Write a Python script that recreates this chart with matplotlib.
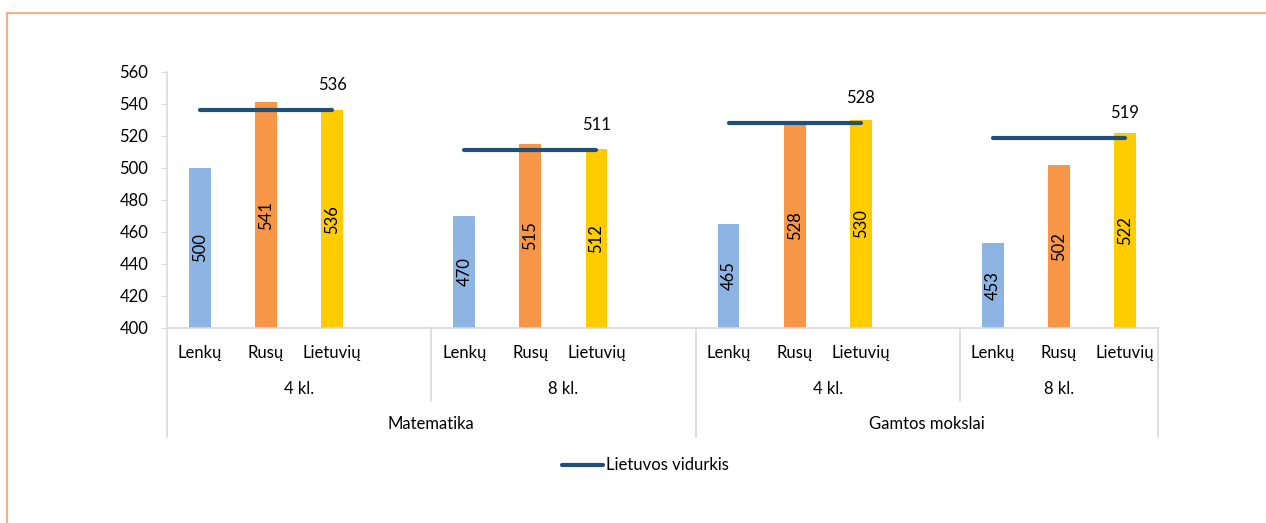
import matplotlib.pyplot as plt
from matplotlib.lines import Line2D

plt.rcParams["font.family"] = ["Lato", "DejaVu Sans"]

groups = ["4 kl.", "8 kl.", "4 kl.", "8 kl."]
subjects = ["Matematika", "Gamtos mokslai"]
series_names = ["Lenkų", "Rusų", "Lietuvių"]
lenku = [500, 470, 465, 453]
rusu = [541, 515, 528, 502]
lietuviu = [536, 512, 530, 522]
vidurkis = [536, 511, 528, 519]
yticks = list(range(400, 561, 20))

colors = ["#8EB4E3", "#F79646", "#FFCC00"]
line_color = "#1F4E79"
grid_grey = "#D9D9D9"
FS = 12

W, H = 1266, 523
fig = plt.figure(figsize=(W / 100, H / 100), dpi=100)
ax = fig.add_axes([167 / W, 1 - 328 / H, (1158 - 167) / W, (328 - 72) / H])

# slot positions: 3 bars per group, an empty slot between groups
starts = [0, 4, 8, 12]
for k, values in enumerate([lenku, rusu, lietuviu]):
    xs = [s + k for s in starts]
    ax.bar(xs, [v - 400 for v in values], bottom=400, width=0.33, color=colors[k])
    for x, v in zip(xs, values):
        ax.text(x, (400 + v) / 2, str(v), rotation=90, ha="center", va="center", fontsize=FS)

for s, v in zip(starts, vidurkis):
    ax.plot([s, s + 2], [v, v], color=line_color, lw=3, solid_capstyle="round")
    ax.annotate(str(v), (s + 2, v), xytext=(0, 25), textcoords="offset pixels",
                ha="center", va="center", fontsize=FS)

ax.set_xlim(-0.5, 14.5)
ax.set_ylim(400, 560)
ax.set_yticks(yticks)
ax.tick_params(axis="y", length=4, color=grid_grey, labelsize=FS, pad=9.5)
ax.set_xticks([])
for side in ["top", "right"]:
    ax.spines[side].set_visible(False)
for side in ["left", "bottom"]:
    ax.spines[side].set_color(grid_grey)
    ax.spines[side].set_linewidth(1.2)

# multi-level category axis
def fy(px):
    return 1 - px / H

def fx_data(x):
    disp = ax.transData.transform((x, 400))
    return fig.transFigure.inverted().transform(disp)[0]

for s in starts:
    for k, name in enumerate(series_names):
        fig.text(fx_data(s + k), fy(353), name, ha="center", va="center", fontsize=FS)

group_bounds = [(-0.5, 3.5), (3.5, 7.5), (7.5, 11.5), (11.5, 14.5)]
for (a, b), g in zip(group_bounds, groups):
    fig.text((fx_data(a) + fx_data(b)) / 2, fy(389), g, ha="center", va="center", fontsize=FS)

subject_bounds = [(-0.5, 7.5), (7.5, 14.5)]
for (a, b), name in zip(subject_bounds, subjects):
    fig.text((fx_data(a) + fx_data(b)) / 2, fy(424), name, ha="center", va="center", fontsize=FS)

for x in [-0.5, 7.5, 14.5]:
    fig.add_artist(Line2D([fx_data(x)] * 2, [fy(328), fy(437)], color=grid_grey, lw=1.2))
for x in [3.5, 11.5]:
    fig.add_artist(Line2D([fx_data(x)] * 2, [fy(328), fy(401)], color=grid_grey, lw=1.2))

# legend
fig.add_artist(Line2D([562 / W, 603 / W], [fy(465)] * 2, color=line_color, lw=3, solid_capstyle="round"))
fig.text(606 / W, fy(465), "Lietuvos vidurkis", ha="left", va="center", fontsize=FS)

# orange frame
frame = "#F4B183"
fig.add_artist(Line2D([7 / W, 1], [fy(13)] * 2, color=frame, lw=1.5))
fig.add_artist(Line2D([7 / W] * 2, [0, fy(13)], color=frame, lw=1.5))

fig.savefig("out.png", dpi=100)
